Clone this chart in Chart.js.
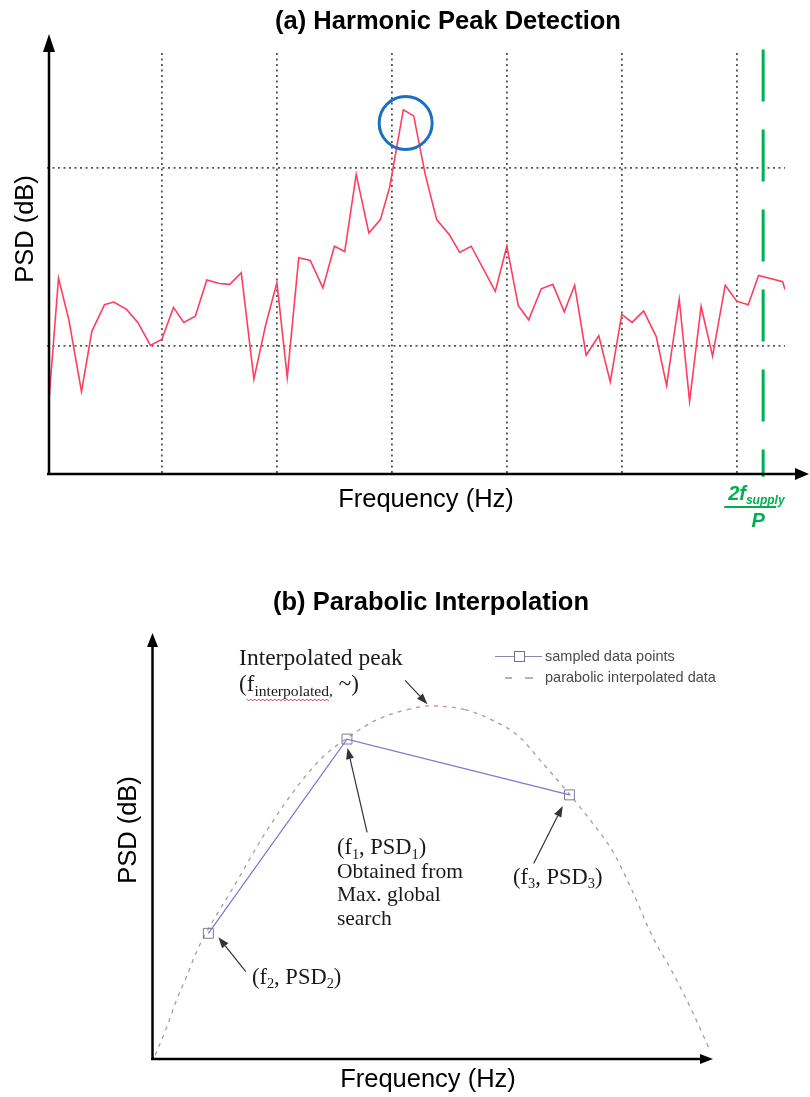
<!DOCTYPE html>
<html>
<head>
<meta charset="utf-8">
<script src="https://cdn.jsdelivr.net/npm/chart.js@4.4.1/dist/chart.umd.min.js"></script>
<style>
  html, body { margin: 0; padding: 0; background: #fff; }
  #wrap { position: relative; width: 810px; height: 1097px; }
  canvas { position: absolute; left: 0; }
  #spectrum { top: 0; }
  #parabola { top: 560px; }
</style>
</head>
<body>
<div id="wrap">
  <canvas id="spectrum" width="810" height="560"></canvas>
  <canvas id="parabola" width="810" height="537"></canvas>
</div>
<script>
// ---------- (a) PSD spectrum around a harmonic ----------
const freqHz = [2, 10, 19, 30, 39, 50, 58, 69, 79, 90,
  100, 110, 119, 129, 139, 150, 159, 169, 180, 190,
  200, 209, 219, 229, 240, 250, 259, 269, 280, 290,
  298, 310, 319, 329, 339, 350, 359, 369, 390, 400,
  410, 419, 430, 440, 450, 459, 469, 480, 490, 500,
  509, 519, 530, 539, 550, 559, 569, 579, 590, 600,
  610, 619, 640, 642];
const psdDb = [-65.7, -52.4, -57.1, -65.2, -58.4, -55.4, -55.1, -55.9, -57.4, -60.0,
  -59.3, -55.7, -57.4, -56.7, -52.6, -53.0, -53.1, -51.8, -63.8, -57.8,
  -52.9, -63.6, -50.1, -50.4, -53.5, -48.8, -49.4, -40.7, -47.3, -45.8,
  -42.2, -33.4, -34.1, -40.7, -45.8, -47.5, -49.5, -48.8, -53.9, -48.8,
  -55.5, -57.1, -53.6, -53.1, -56.2, -53.2, -61.1, -58.9, -64.1, -56.5,
  -57.4, -56.1, -59.0, -64.5, -54.8, -66.3, -55.6, -61.2, -53.2, -55.0,
  -55.4, -52.1, -52.8, -53.7];
const gridFreqHz = [100, 200, 300, 400, 500, 600];
const gridPsdDb = [-60, -40];
const peakFreqHz = 312;
const peakPsdDb = -34.9;
const harmonicLimitHz = 623;   // 2 f_supply / P

// ---------- (b) parabolic interpolation ----------
const sampleFreq = [9.9, 34.7, 74.5];
const samplePsd = [29.5, 75.1, 62.0];
const curveFreq = [0.4, 2.5, 4.2, 6.0, 7.8, 9.3, 14.6, 20.1, 26.3, 30.4, 34.8, 40.0, 45.5,
  49.6, 55.8, 60.6, 65.4, 69.2, 74.6, 78.2, 82.3, 85.9, 89.4, 93.0, 96.6, 99.6];
const curvePsd = [0.9, 7.6, 13.8, 19.3, 25.2, 29.1, 40.8, 53.1, 64.8, 70.9, 75.4, 79.6, 82.0,
  82.9, 82.0, 79.6, 75.8, 70.2, 62.0, 56.1, 48.6, 39.0, 28.6, 20.2, 10.8, 2.1];

const SANS = '"Liberation Sans", Arial, Helvetica, sans-serif';
const SERIF = '"Liberation Serif", "Times New Roman", Times, serif';
const LABEL_PX = 25.5;

function arrow(ctx, x1, y1, x2, y2, head, half, color, width) {
  const a = Math.atan2(y2 - y1, x2 - x1);
  const bx = x2 - head * Math.cos(a), by = y2 - head * Math.sin(a);
  ctx.save();
  ctx.strokeStyle = color; ctx.fillStyle = color; ctx.lineWidth = width;
  ctx.beginPath(); ctx.moveTo(x1, y1); ctx.lineTo(bx, by); ctx.stroke();
  ctx.beginPath(); ctx.moveTo(x2, y2);
  ctx.lineTo(bx + half * Math.sin(a), by - half * Math.cos(a));
  ctx.lineTo(bx - half * Math.sin(a), by + half * Math.cos(a));
  ctx.closePath(); ctx.fill();
  ctx.restore();
}

// draws text runs with optional subscripts
function richText(ctx, parts, x, y, size, family, style) {
  let cx = x;
  const spans = [];
  for (const p of parts) {
    const fs = p.sub ? size * (p.ratio || 0.64) : size;
    ctx.font = `${style || ''} ${fs}px ${family}`;
    const dy = p.sub ? size * 0.2 : 0;
    ctx.fillText(p.t, cx, y + dy);
    const w = ctx.measureText(p.t).width;
    spans.push({ x: cx, w, sub: !!p.sub, y: y + dy });
    cx += w;
  }
  return spans;
}

function zeroSize(scale) {
  if (scale.isHorizontal()) scale.height = 0; else scale.width = 0;
}

// ---------- chart (a) ----------
const spectrumDecor = {
  id: 'spectrumDecor',
  afterDraw(chart) {
    const { ctx, chartArea: a } = chart;
    const ax = a.left + 2;
    arrow(ctx, ax, a.bottom + 1, ax, a.top - 19, 18, 6, '#000', 2.5);
    arrow(ctx, a.left, a.bottom, a.right + 24, a.bottom, 14, 6, '#000', 2.5);

    ctx.save();
    ctx.fillStyle = '#000';
    ctx.textAlign = 'center';
    ctx.textBaseline = 'middle';
    ctx.font = `bold ${LABEL_PX}px ${SANS}`;
    ctx.fillText('(a) Harmonic Peak Detection', 448, 22);
    ctx.font = `${LABEL_PX}px ${SANS}`;
    ctx.fillText('Frequency (Hz)', 426, 500);
    ctx.translate(26, 229);
    ctx.rotate(-Math.PI / 2);
    ctx.fillText('PSD (dB)', 0, 0);
    ctx.restore();

    // fraction label under the harmonic limit
    const gx = chart.scales.x.getPixelForValue(harmonicLimitHz);
    ctx.save();
    ctx.fillStyle = '#00b050';
    ctx.strokeStyle = '#00b050';
    ctx.textBaseline = 'alphabetic';
    ctx.textAlign = 'left';
    richText(ctx, [{ t: '2f' }, { t: 'supply', sub: true, ratio: 0.6 }], gx - 35, 500, 20, SANS, 'italic bold');
    ctx.lineWidth = 2;
    ctx.beginPath(); ctx.moveTo(gx - 39, 507); ctx.lineTo(gx + 13, 507); ctx.stroke();
    ctx.textAlign = 'center';
    ctx.font = `italic bold 20px ${SANS}`;
    ctx.fillText('P', gx - 5, 527);
    ctx.restore();
  }
};

new Chart(document.getElementById('spectrum'), {
  type: 'line',
  data: {
    datasets: [
      {
        label: 'PSD',
        data: freqHz.map((f, i) => ({ x: f, y: psdDb[i] })),
        borderColor: '#ff3d5f',
        borderWidth: 1.6,
        pointRadius: 0,
        tension: 0,
        order: 1
      },
      {
        label: '2f_supply/P',
        data: [{ x: harmonicLimitHz, y: -26.6 }, { x: harmonicLimitHz, y: -74.8 }],
        borderColor: '#00b050',
        borderWidth: 3,
        borderDash: [52, 28],
        borderCapStyle: 'butt',
        pointRadius: 0,
        clip: false,
        order: 2
      },
      {
        type: 'scatter',
        label: 'detected peak',
        data: [{ x: peakFreqHz, y: peakPsdDb }],
        pointStyle: 'circle',
        pointRadius: 26.5,
        borderWidth: 3,
        borderColor: '#1a6fc0',
        backgroundColor: 'rgba(0,0,0,0)',
        clip: false,
        order: 0
      }
    ]
  },
  options: {
    responsive: false,
    animation: false,
    devicePixelRatio: 1,
    layout: { padding: { left: 47, right: 25, top: 53, bottom: 86 }, autoPadding: false },
    plugins: { legend: { display: false }, tooltip: { enabled: false }, title: { display: false } },
    scales: {
      x: {
        type: 'linear', min: 0, max: 642,
        afterBuildTicks: s => { s.ticks = gridFreqHz.map(v => ({ value: v })); },
        afterFit: zeroSize,
        ticks: { display: false },
        grid: { color: '#555', lineWidth: 1.8, drawTicks: false },
        border: { display: false, dash: [2, 3.5] }
      },
      y: {
        type: 'linear', min: -74.5, max: -27,
        afterBuildTicks: s => { s.ticks = gridPsdDb.map(v => ({ value: v })); },
        afterFit: zeroSize,
        ticks: { display: false },
        grid: { color: '#555', lineWidth: 1.8, drawTicks: false },
        border: { display: false, dash: [2, 3.5] }
      }
    }
  },
  plugins: [spectrumDecor]
});

// ---------- chart (b) ----------
const parabolaDecor = {
  id: 'parabolaDecor',
  afterDraw(chart) {
    const { ctx, chartArea: a } = chart;
    const sx = v => chart.scales.x.getPixelForValue(v);
    const sy = v => chart.scales.y.getPixelForValue(v);

    arrow(ctx, a.left - 0.5, a.bottom + 1, a.left - 0.5, a.top, 14, 5.5, '#000', 2.5);
    arrow(ctx, a.left - 2, a.bottom, a.right + 1, a.bottom, 13, 5, '#000', 2.5);

    ctx.save();
    ctx.fillStyle = '#000';
    ctx.textAlign = 'center';
    ctx.textBaseline = 'middle';
    ctx.font = `bold ${LABEL_PX}px ${SANS}`;
    ctx.fillText('(b) Parabolic Interpolation', 431, 43);
    ctx.font = `${LABEL_PX}px ${SANS}`;
    ctx.fillText('Frequency (Hz)', 428, 520);
    ctx.translate(129, 270);
    ctx.rotate(-Math.PI / 2);
    ctx.fillText('PSD (dB)', 0, 0);
    ctx.restore();

    // legend
    const ds0 = chart.data.datasets[0], ds1 = chart.data.datasets[1];
    ctx.save();
    ctx.strokeStyle = '#8a8aa8'; ctx.lineWidth = 1;
    ctx.beginPath(); ctx.moveTo(495, 96.5); ctx.lineTo(542, 96.5); ctx.stroke();
    ctx.strokeStyle = '#6f6f90';
    ctx.fillStyle = '#fff';
    ctx.fillRect(514, 91.5, 10, 10);
    ctx.strokeRect(514.5, 91.5, 10, 10);
    ctx.strokeStyle = '#9a9a9a'; ctx.lineWidth = 1.4;
    ctx.beginPath(); ctx.moveTo(505, 118); ctx.lineTo(512, 118); ctx.moveTo(525, 118); ctx.lineTo(533, 118); ctx.stroke();
    ctx.fillStyle = '#4a4a4a';
    ctx.font = `14.5px ${SANS}`;
    ctx.textAlign = 'left'; ctx.textBaseline = 'middle';
    ctx.fillText(ds0.label, 545, 96.5);
    ctx.fillText(ds1.label, 545, 118);
    ctx.restore();

    // annotation arrows (data units)
    const arrows = [
      [45.1, 88.9, 49.1, 83.3],
      [38.3, 53.2, 34.8, 73.0],
      [68.1, 45.9, 73.3, 59.4],
      [16.6, 20.5, 11.7, 28.6]
    ];
    for (const [f1, p1, f2, p2] of arrows) {
      arrow(ctx, sx(f1), sy(p1), sx(f2), sy(p2), 11, 4, '#333', 1.2);
    }

    ctx.save();
    ctx.fillStyle = '#1a1a1a';
    ctx.textAlign = 'left';
    ctx.textBaseline = 'alphabetic';
    ctx.font = `23.5px ${SERIF}`;
    ctx.fillText('Interpolated peak', sx(15.4), sy(92.5));
    const sp = richText(ctx, [{ t: '(' }, { t: 'f' }, { t: 'interpolated,', sub: true, ratio: 0.68 }, { t: ' ~)' }],
      sx(15.4), sy(86.3), 23, SERIF);
    // spell-check squiggle under the subscript
    ctx.strokeStyle = '#e0405a'; ctx.lineWidth = 1;
    ctx.beginPath();
    const wy = sp[2].y + 4, wx0 = sp[1].x, wx1 = sp[2].x + sp[2].w - 4;
    for (let x = wx0, k = 0; x <= wx1; x += 2, k++) {
      const yy = wy + (k % 2 ? 1 : -1);
      if (k === 0) ctx.moveTo(x, yy); else ctx.lineTo(x, yy);
    }
    ctx.stroke();

    const sub = t => ({ t, sub: true });
    richText(ctx, [{ t: '(f' }, sub('1'), { t: ', PSD' }, sub('1'), { t: ')' }], sx(32.9), sy(48.1), 22.5, SERIF);
    ctx.font = `21.5px ${SERIF}`;
    ctx.fillText('Obtained from', sx(32.9), sy(42.5));
    ctx.fillText('Max. global', sx(32.9), sy(37.0));
    ctx.fillText('search', sx(32.9), sy(31.5));
    richText(ctx, [{ t: '(f' }, sub('3'), { t: ', PSD' }, sub('3'), { t: ')' }], sx(64.4), sy(41.1), 22.5, SERIF);
    richText(ctx, [{ t: '(f' }, sub('2'), { t: ', PSD' }, sub('2'), { t: ')' }], sx(17.7), sy(17.7), 22.5, SERIF);
    ctx.restore();
  }
};

new Chart(document.getElementById('parabola'), {
  type: 'line',
  data: {
    datasets: [
      {
        label: 'sampled data points',
        data: sampleFreq.map((f, i) => ({ x: f, y: samplePsd[i] })),
        borderColor: '#7878d0',
        borderWidth: 1.2,
        pointStyle: 'rect',
        pointRadius: 7,
        pointBorderColor: '#7b7b9c',
        pointBackgroundColor: 'rgba(255,255,255,0)',
        pointBorderWidth: 1,
        tension: 0,
        order: 0
      },
      {
        label: 'parabolic interpolated data',
        data: curveFreq.map((f, i) => ({ x: f, y: curvePsd[i] })),
        borderColor: '#a0a0a0',
        borderWidth: 1.3,
        borderDash: [4, 5],
        pointRadius: 0,
        cubicInterpolationMode: 'monotone',
        segment: {
          borderColor: c => {
            const m = (c.p0.parsed.x + c.p1.parsed.x) / 2;
            return (m > 44 && m < 58) ? '#d98592' : '#a0a0a0';
          }
        },
        clip: false,
        order: 1
      }
    ]
  },
  options: {
    responsive: false,
    animation: false,
    devicePixelRatio: 1,
    layout: { padding: { left: 153, right: 98, top: 73, bottom: 38 }, autoPadding: false },
    plugins: { legend: { display: false }, tooltip: { enabled: false }, title: { display: false } },
    scales: {
      x: {
        type: 'linear', min: 0, max: 100,
        afterFit: zeroSize,
        ticks: { display: false },
        grid: { display: false },
        border: { display: false }
      },
      y: {
        type: 'linear', min: 0, max: 100,
        afterFit: zeroSize,
        ticks: { display: false },
        grid: { display: false },
        border: { display: false }
      }
    }
  },
  plugins: [parabolaDecor]
});
</script>
</body>
</html>
